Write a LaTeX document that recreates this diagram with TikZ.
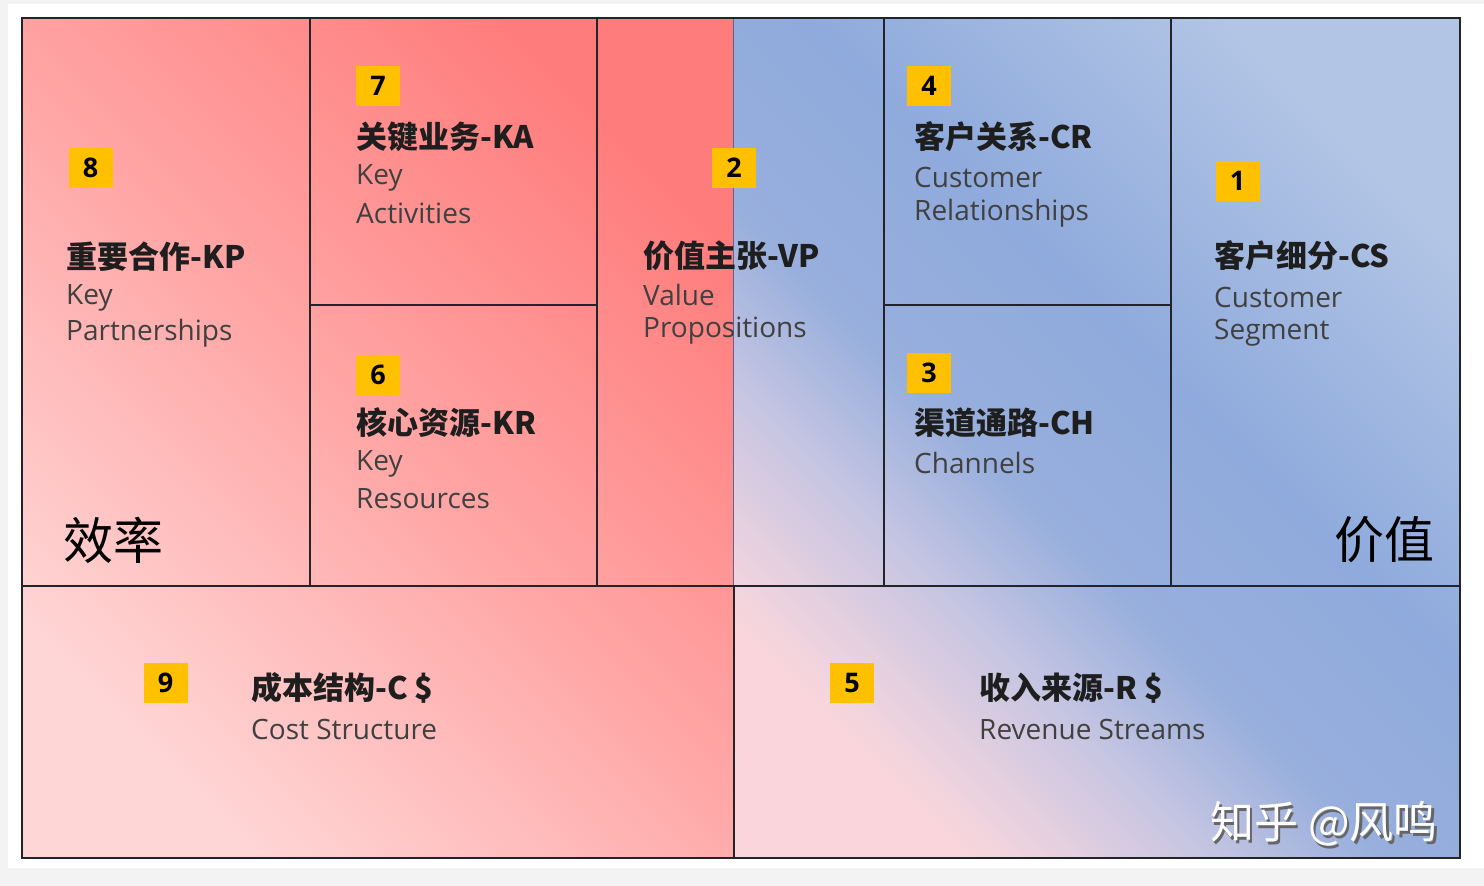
\documentclass[tikz,border=0pt]{standalone}
\usepackage{fontspec}
\setmainfont{Open Sans}
\newfontfamily\cjk{Noto Sans CJK SC}

\definecolor{pagegray}{RGB}{243,243,243}
\definecolor{badgegold}{RGB}{255,192,0}
\definecolor{redlo}{RGB}{255,214,214}
\definecolor{redmid}{RGB}{255,166,166}
\definecolor{redhi}{RGB}{255,124,124}
\definecolor{bluelo}{RGB}{250,214,220}
\definecolor{bluepk}{RGB}{228,208,224}
\definecolor{bluelav}{RGB}{198,197,226}
\definecolor{bluesoft}{RGB}{152,175,221}
\definecolor{bluemid}{RGB}{143,170,220}
\definecolor{bluehi}{RGB}{178,197,229}
\definecolor{titlecol}{RGB}{30,30,30}
\definecolor{subcol}{RGB}{64,64,64}
\definecolor{gridcol}{RGB}{35,35,42}
\definecolor{seamcol}{RGB}{90,100,150}

\pgfdeclarehorizontalshading{redside}{100bp}{color(0bp)=(redlo); color(25bp)=(redlo); color(50bp)=(redmid); color(75bp)=(redhi); color(100bp)=(redhi)}
\pgfdeclarehorizontalshading{blueside}{100bp}{color(0bp)=(bluelo); color(25bp)=(bluelo); color(30bp)=(bluepk); color(36bp)=(bluelav); color(44bp)=(bluesoft); color(56bp)=(bluemid); color(75bp)=(bluehi); color(100bp)=(bluehi)}

\tikzset{
  badge/.style={fill=badgegold, minimum width=44pt, minimum height=40pt, inner sep=0pt,
    font=\fontsize{27}{27}\selectfont\bfseries},
  ttl/.style={anchor=west, inner sep=0pt, text=titlecol, font=\cjk\bfseries\fontsize{31}{31}\selectfont},
  sub/.style={anchor=west, inner sep=0pt, text=subcol, font=\fontsize{28}{28}\selectfont},
  big/.style={inner sep=0pt, text=black, font=\cjk\fontsize{50}{50}\selectfont},
  wmark/.style={anchor=west, inner sep=0pt, font=\cjk\fontsize{44}{44}\selectfont},
  gridline/.style={draw=gridcol, line width=2pt},
}

\begin{document}
\begin{tikzpicture}[x=1pt,y=-1pt]
\useasboundingbox (0,0) rectangle (1484,886);
\fill[pagegray] (0,0) rectangle (1484,886);
\fill[white] (8,4) rectangle (1484,868);

% the two coloured halves
\shade[shading=redside, shading angle=45] (22,18) rectangle (733,858);
\shade[shading=blueside, shading angle=45] (733,18) rectangle (1460,858);
\draw[seamcol, line width=0.8pt] (733,18) -- (733,586);

% grid
\draw[gridline] (22,18) rectangle (1460,858);
\draw[gridline] (22,586) -- (1460,586);
\draw[gridline] (310,18) -- (310,586);
\draw[gridline] (597,18) -- (597,586);
\draw[gridline] (884,18) -- (884,586);
\draw[gridline] (1171,18) -- (1171,586);
\draw[gridline] (310,305) -- (597,305);
\draw[gridline] (884,305) -- (1171,305);
\draw[gridline] (734,586) -- (734,858);

% key partnerships
\node[badge] (kp-num) at (90.5,168) {8};
\node[ttl] (kp-title) at (66,257) {重要合作-KP};
\node[sub] (kp-en1) at (66,298) {Key};
\node[sub] (kp-en2) at (66,333) {Partnerships};

% key activities
\node[badge] (ka-num) at (378,86) {7};
\node[ttl] (ka-title) at (356,137) {关键业务-KA};
\node[sub] (ka-en1) at (356,178) {Key};
\node[sub] (ka-en2) at (356,213) {Activities};

% key resources
\node[badge] (kr-num) at (378,375) {6};
\node[ttl] (kr-title) at (356,423) {核心资源-KR};
\node[sub] (kr-en1) at (356,464) {Key};
\node[sub] (kr-en2) at (356,499) {Resources};

% value propositions
\node[badge] (vp-num) at (734,168) {2};
\node[ttl] (vp-title) at (643,256) {价值主张-VP};
\node[sub] (vp-en1) at (643,295) {Value};
\node[sub] (vp-en2) at (643,331) {Propositions};

% customer relationships
\node[badge] (cr-num) at (929,86) {4};
\node[ttl] (cr-title) at (914,137) {客户关系-CR};
\node[sub] (cr-en1) at (914,177) {Customer};
\node[sub] (cr-en2) at (914,213) {Relationships};

% channels
\node[badge] (ch-num) at (929,373) {3};
\node[ttl] (ch-title) at (914,423) {渠道通路-CH};
\node[sub] (ch-en1) at (914,463) {Channels};

% customer segment
\node[badge] (cs-num) at (1237.5,180.5) {1};
\node[ttl] (cs-title) at (1214,256) {客户细分-CS};
\node[sub] (cs-en1) at (1214,297) {Customer};
\node[sub] (cs-en2) at (1214,333) {Segment};

% cost structure
\node[badge] (cost-num) at (165.5,682.5) {9};
\node[ttl] (cost-title) at (251,688) {成本结构-C \$};
\node[sub] (cost-en) at (251,729) {Cost Structure};

% revenue streams
\node[badge] (rev-num) at (852,682.5) {5};
\node[ttl] (rev-title) at (979,688) {收入来源-R \$};
\node[sub] (rev-en) at (979,729) {Revenue Streams};

% side labels
\node[big, anchor=west] (eff) at (63,540) {效率};
\node[big, anchor=east] (val) at (1435,540) {价值};

% watermark
\node[wmark, text=black!60] (mark-shadow) at (1212.5,826.5) {知乎 @风鸣};
\node[wmark, text=white] (mark) at (1210,824) {知乎 @风鸣};
\end{tikzpicture}
\end{document}
